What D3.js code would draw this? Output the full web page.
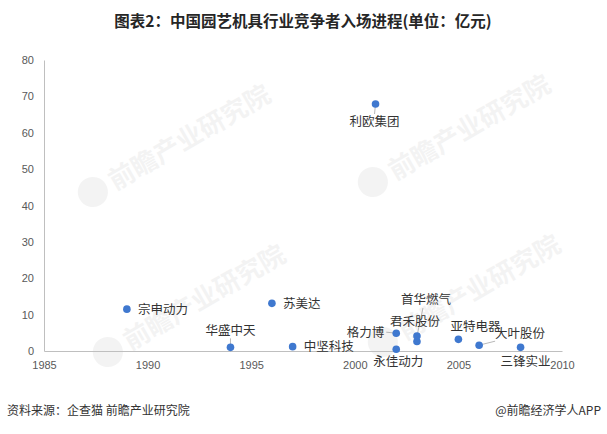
<!DOCTYPE html>
<html><head><meta charset="utf-8">
<script src="https://cdn.jsdelivr.net/npm/d3@7"></script>
<style>
body{margin:0;background:#fff;}
svg{display:block;font-family:"Microsoft YaHei","Noto Sans CJK SC",sans-serif;}
</style></head>
<body>
<svg id="c" width="607" height="434"></svg>
<script>
const companies = ["宗申动力","华盛中天","苏美达","中坚科技","利欧集团","格力博","永佳动力","君禾股份","首华燃气","亚特电器","大叶股份","三锋实业"];
const years     = [1989, 1994, 1996, 1997, 2001, 2002, 2002, 2003, 2003, 2005, 2006, 2008];
const values    = [11.5, 1.0, 13.1, 1.2, 67.9, 4.9, 0.5, 2.6, 4.1, 3.2, 1.6, 1.0];
// label offsets (dx, dy) relative to point, anchor, and optional leader line
const labelDx   = [11, 0, 11, 11, -1, -12, -23, -27, -16, -8, 16, -20];
const labelDy   = [0, -17, 0, 0, 18, -1, 12, -20, -36, -13, -12, 14];
const anchors   = ["start","middle","start","start","middle","end","start","start","start","start","start","start"];
const leaders   = [false, true, false, false, true, true, false, false, true, false, true, false];
const xTicks = [1985, 1990, 1995, 2000, 2005, 2010];
const yTicks = [0, 10, 20, 30, 40, 50, 60, 70, 80];

const svg = d3.select("#c");
const m = {l:44, r:45, t:60, b:83};
const W = 607, H = 434;
const x = d3.scaleLinear().domain([1985, 2010]).range([m.l, W - m.r]);
const y = d3.scaleLinear().domain([0, 80]).range([H - m.b, m.t]);

// faint watermarks
const wm = [[105,185],[385,175],[395,335],[120,345]];
wm.forEach(([wx,wy])=>{
  const g = svg.append("g").attr("transform",`translate(${wx},${wy}) rotate(-30)`).attr("opacity",0.045);
  g.append("circle").attr("cx",-14).attr("cy",0).attr("r",15).attr("fill","#000");
  g.append("text").attr("x",6).attr("y",10).attr("font-size",26).attr("font-weight","bold").attr("fill","#000").text("前瞻产业研究院");
});

svg.append("text").attr("x", 303).attr("y", 27).attr("text-anchor","middle")
  .attr("font-size", 15.5).attr("font-weight","bold").attr("fill","#262626")
  .text("图表2：中国园艺机具行业竞争者入场进程(单位：亿元)");

const gy = svg.append("g").attr("transform",`translate(${m.l},0)`)
  .call(d3.axisLeft(y).tickValues(yTicks).tickSize(0).tickPadding(10));
gy.select(".domain").attr("stroke","#bfbfbf");
gy.selectAll("text").attr("fill","#595959").attr("font-size",11).attr("font-family","Arial, 'Liberation Sans', sans-serif");

const gx = svg.append("g").attr("transform",`translate(0,${y(0)})`)
  .call(d3.axisBottom(x).tickValues(xTicks).tickFormat(d3.format("d")).tickSize(0).tickPadding(10));
gx.select(".domain").attr("stroke","#bfbfbf");
gx.selectAll("text").attr("fill","#595959").attr("font-size",11).attr("font-family","Arial, 'Liberation Sans', sans-serif");

const data = companies.map((c,i)=>({c, yr:years[i], v:values[i], dx:labelDx[i], dy:labelDy[i], a:anchors[i], ld:leaders[i]}));

// leader lines
data.filter(d=>d.ld).forEach(d=>{
  const px = x(d.yr), py = y(d.v);
  let tx = px + d.dx, ty = py + d.dy;
  let ex, ey;
  if (d.a === "end") { ex = tx + 2; ey = ty; }
  else if (d.a === "middle") { ex = tx; ey = d.dy < 0 ? ty + 8 : ty - 8; }
  else { ex = tx + (d.c==="首华燃气" ? 22 : 0); ey = ty + 8; }
  svg.append("line").attr("x1",px).attr("y1",py).attr("x2",ex).attr("y2",ey)
    .attr("stroke","#a6a6a6").attr("stroke-width",0.8);
});

svg.selectAll("circle.pt").data(data).join("circle").attr("class","pt")
  .attr("cx",d=>x(d.yr)).attr("cy",d=>y(d.v)).attr("r",3.8).attr("fill","#3f78cf");

svg.selectAll("text.lb").data(data).join("text").attr("class","lb")
  .attr("x",d=>x(d.yr)+d.dx).attr("y",d=>y(d.v)+d.dy).attr("dy","0.35em")
  .attr("text-anchor",d=>d.a).attr("font-size",12.5).attr("fill","#333")
  .text(d=>d.c);

svg.append("text").attr("x",7).attr("y",415).attr("font-size",12).attr("fill","#333").text("资料来源：企查猫 前瞻产业研究院");
svg.append("text").attr("x",601).attr("y",415).attr("text-anchor","end").attr("font-size",12).attr("fill","#333").text("@前瞻经济学人APP");
</script>
</body></html>
